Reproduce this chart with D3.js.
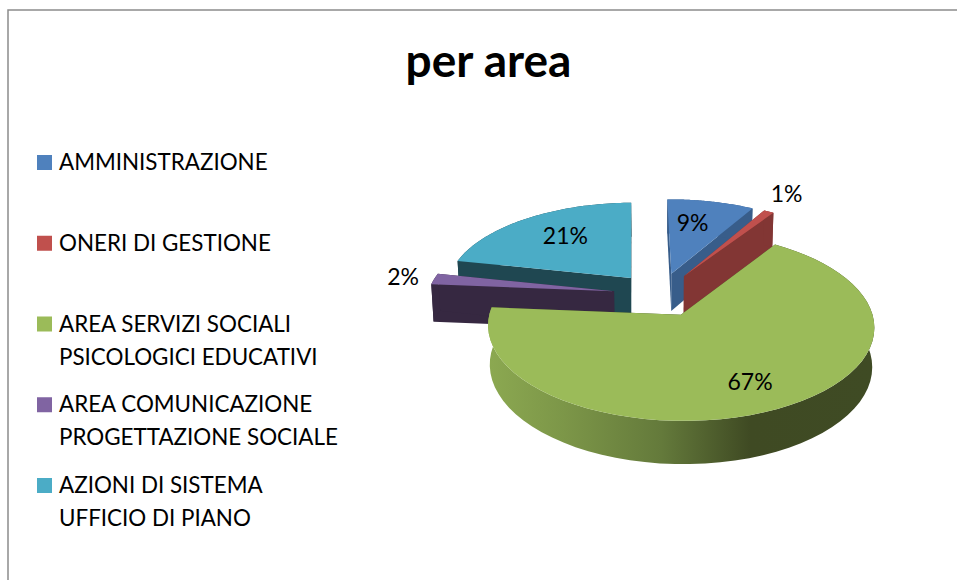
<!DOCTYPE html>
<html>
<head>
<meta charset="utf-8">
<script src="https://cdn.jsdelivr.net/npm/d3@7"></script>
<style>
  html, body { margin: 0; background: #fff; overflow: hidden; }
  text { font-family: Lato, "Open Sans", sans-serif; fill: #000; }
</style>
</head>
<body>
<svg id="chart" width="957" height="580"></svg>
<script>
const legendLines = [
  ["AMMINISTRAZIONE"],
  ["ONERI DI GESTIONE"],
  ["AREA SERVIZI SOCIALI", "PSICOLOGICI EDUCATIVI"],
  ["AREA COMUNICAZIONE", "PROGETTAZIONE SOCIALE"],
  ["AZIONI DI SISTEMA", "UFFICIO DI PIANO"]
];
const values = [8.6, 1, 67, 2, 21.4];
const topColors = ["#4F81BD", "#C0504D", "#9BBB59", "#8064A2", "#4BACC6"];
const wallColors = ["#385D8A", "#823634", "url(#greenWall)", "#362841", "#1F4751"];

// where each percent label sits, as a fraction of the radius
const labelRadius = [0.69, 1.33, 0.73, 1.2, 0.7];
const labelNudge = [-7, -7, 1, 4, 9];

const svg = d3.select("#chart");

// fake 3D: flat disc on a tilted plane, simple perspective
const cx = 660, cy = 294.5;
const R = 186.5, Rs = 88, k = 0.12, depth = 38, explode = 0.25, bottomScale = 0.99;

function project(X, Y, low) {
  const w = 1 / (1 - k * Y);
  const f = low ? bottomScale : 1;
  return [cx + R * X * w * f, cy + Rs * Y * w * f + (low ? depth * w : 0)];
}

const rad = d => d * Math.PI / 180;
const pie = d3.pie().sort(null).startAngle(rad(-1)).endAngle(rad(359));
const line = d3.line();

const slices = pie(values).map((d, i) => {
  const mid = (d.startAngle + d.endAngle) / 2;
  return {
    ...d, i, mid,
    X0: explode * Math.sin(mid),
    Y0: -explode * Math.cos(mid)
  };
});

const onRim = (s, a, r, low) =>
  project(s.X0 + r * Math.sin(a), s.Y0 - r * Math.cos(a), low);
const arcAngles = s => d3.range(0, 61).map(t => s.startAngle + (s.endAngle - s.startAngle) * t / 60);

// gradient on the side of the big slice
const grad = svg.append("defs").append("linearGradient")
  .attr("id", "greenWall")
  .attr("gradientUnits", "userSpaceOnUse")
  .attr("x1", 487).attr("x2", 874).attr("y1", 0).attr("y2", 0);
[[0, "#8CA951"], [0.2, "#7C9648"], [0.45, "#647A3B"], [0.68, "#3F4A23"], [1, "#3F4B24"]]
  .forEach(([o, c]) => grad.append("stop").attr("offset", o).attr("stop-color", c));

// frame, only left and top show
svg.append("rect")
  .attr("x", 8).attr("y", 10).attr("width", 1100).attr("height", 800)
  .attr("fill", "none").attr("stroke", "#8c8c8c").attr("stroke-width", 1.5);

svg.append("text")
  .attr("x", 488.5).attr("y", 77)
  .attr("text-anchor", "middle")
  .attr("font-size", 46).attr("font-weight", 700)
  .text("per area");

// back slices first
const order = slices.slice().sort((a, b) => a.Y0 - b.Y0);
const g = svg.append("g");

order.forEach(s => {
  const wall = wallColors[s.i];
  const angles = arcAngles(s);
  const apexTop = project(s.X0, s.Y0, false);
  const apexLow = project(s.X0, s.Y0, true);

  [s.startAngle, s.endAngle].forEach(a => {
    g.append("path")
      .attr("d", line([apexTop, onRim(s, a, 1, false), onRim(s, a, 1, true), apexLow]) + "Z")
      .attr("fill", s.i === 2 ? "#3F4B24" : wall);
  });

  const rimTop = angles.map(a => onRim(s, a, 1, false));
  const rimLow = angles.map(a => onRim(s, a, 1, true)).reverse();
  g.append("path")
    .attr("d", line(rimTop.concat(rimLow)) + "Z")
    .attr("fill", wall);

  g.append("path")
    .attr("d", line([apexTop].concat(rimTop)) + "Z")
    .attr("fill", topColors[s.i]);
});

// percent labels
const pct = d3.format(".0f");
svg.append("g").selectAll("text")
  .data(slices)
  .join("text")
  .attr("x", s => onRim(s, s.mid, labelRadius[s.i], false)[0] + labelNudge[s.i])
  .attr("y", s => onRim(s, s.mid, labelRadius[s.i], false)[1])
  .attr("text-anchor", "middle")
  .attr("dominant-baseline", "central")
  .attr("font-size", 23)
  .text(s => pct(s.data) + "%");

// legend
const legendY = d3.scalePoint()
  .domain(d3.range(legendLines.length))
  .range([170, 493]);

const legend = svg.append("g").selectAll("g")
  .data(legendLines)
  .join("g")
  .attr("transform", (d, i) => `translate(37,${legendY(i)})`);

legend.append("rect")
  .attr("x", 0).attr("y", -15).attr("width", 15).attr("height", 15)
  .attr("fill", (d, i) => topColors[i]);

legend.selectAll("text")
  .data(d => d)
  .join("text")
  .attr("x", 22)
  .attr("y", (d, i) => i * 33)
  .attr("font-size", 22.4)
  .text(d => d);
</script>
</body>
</html>
